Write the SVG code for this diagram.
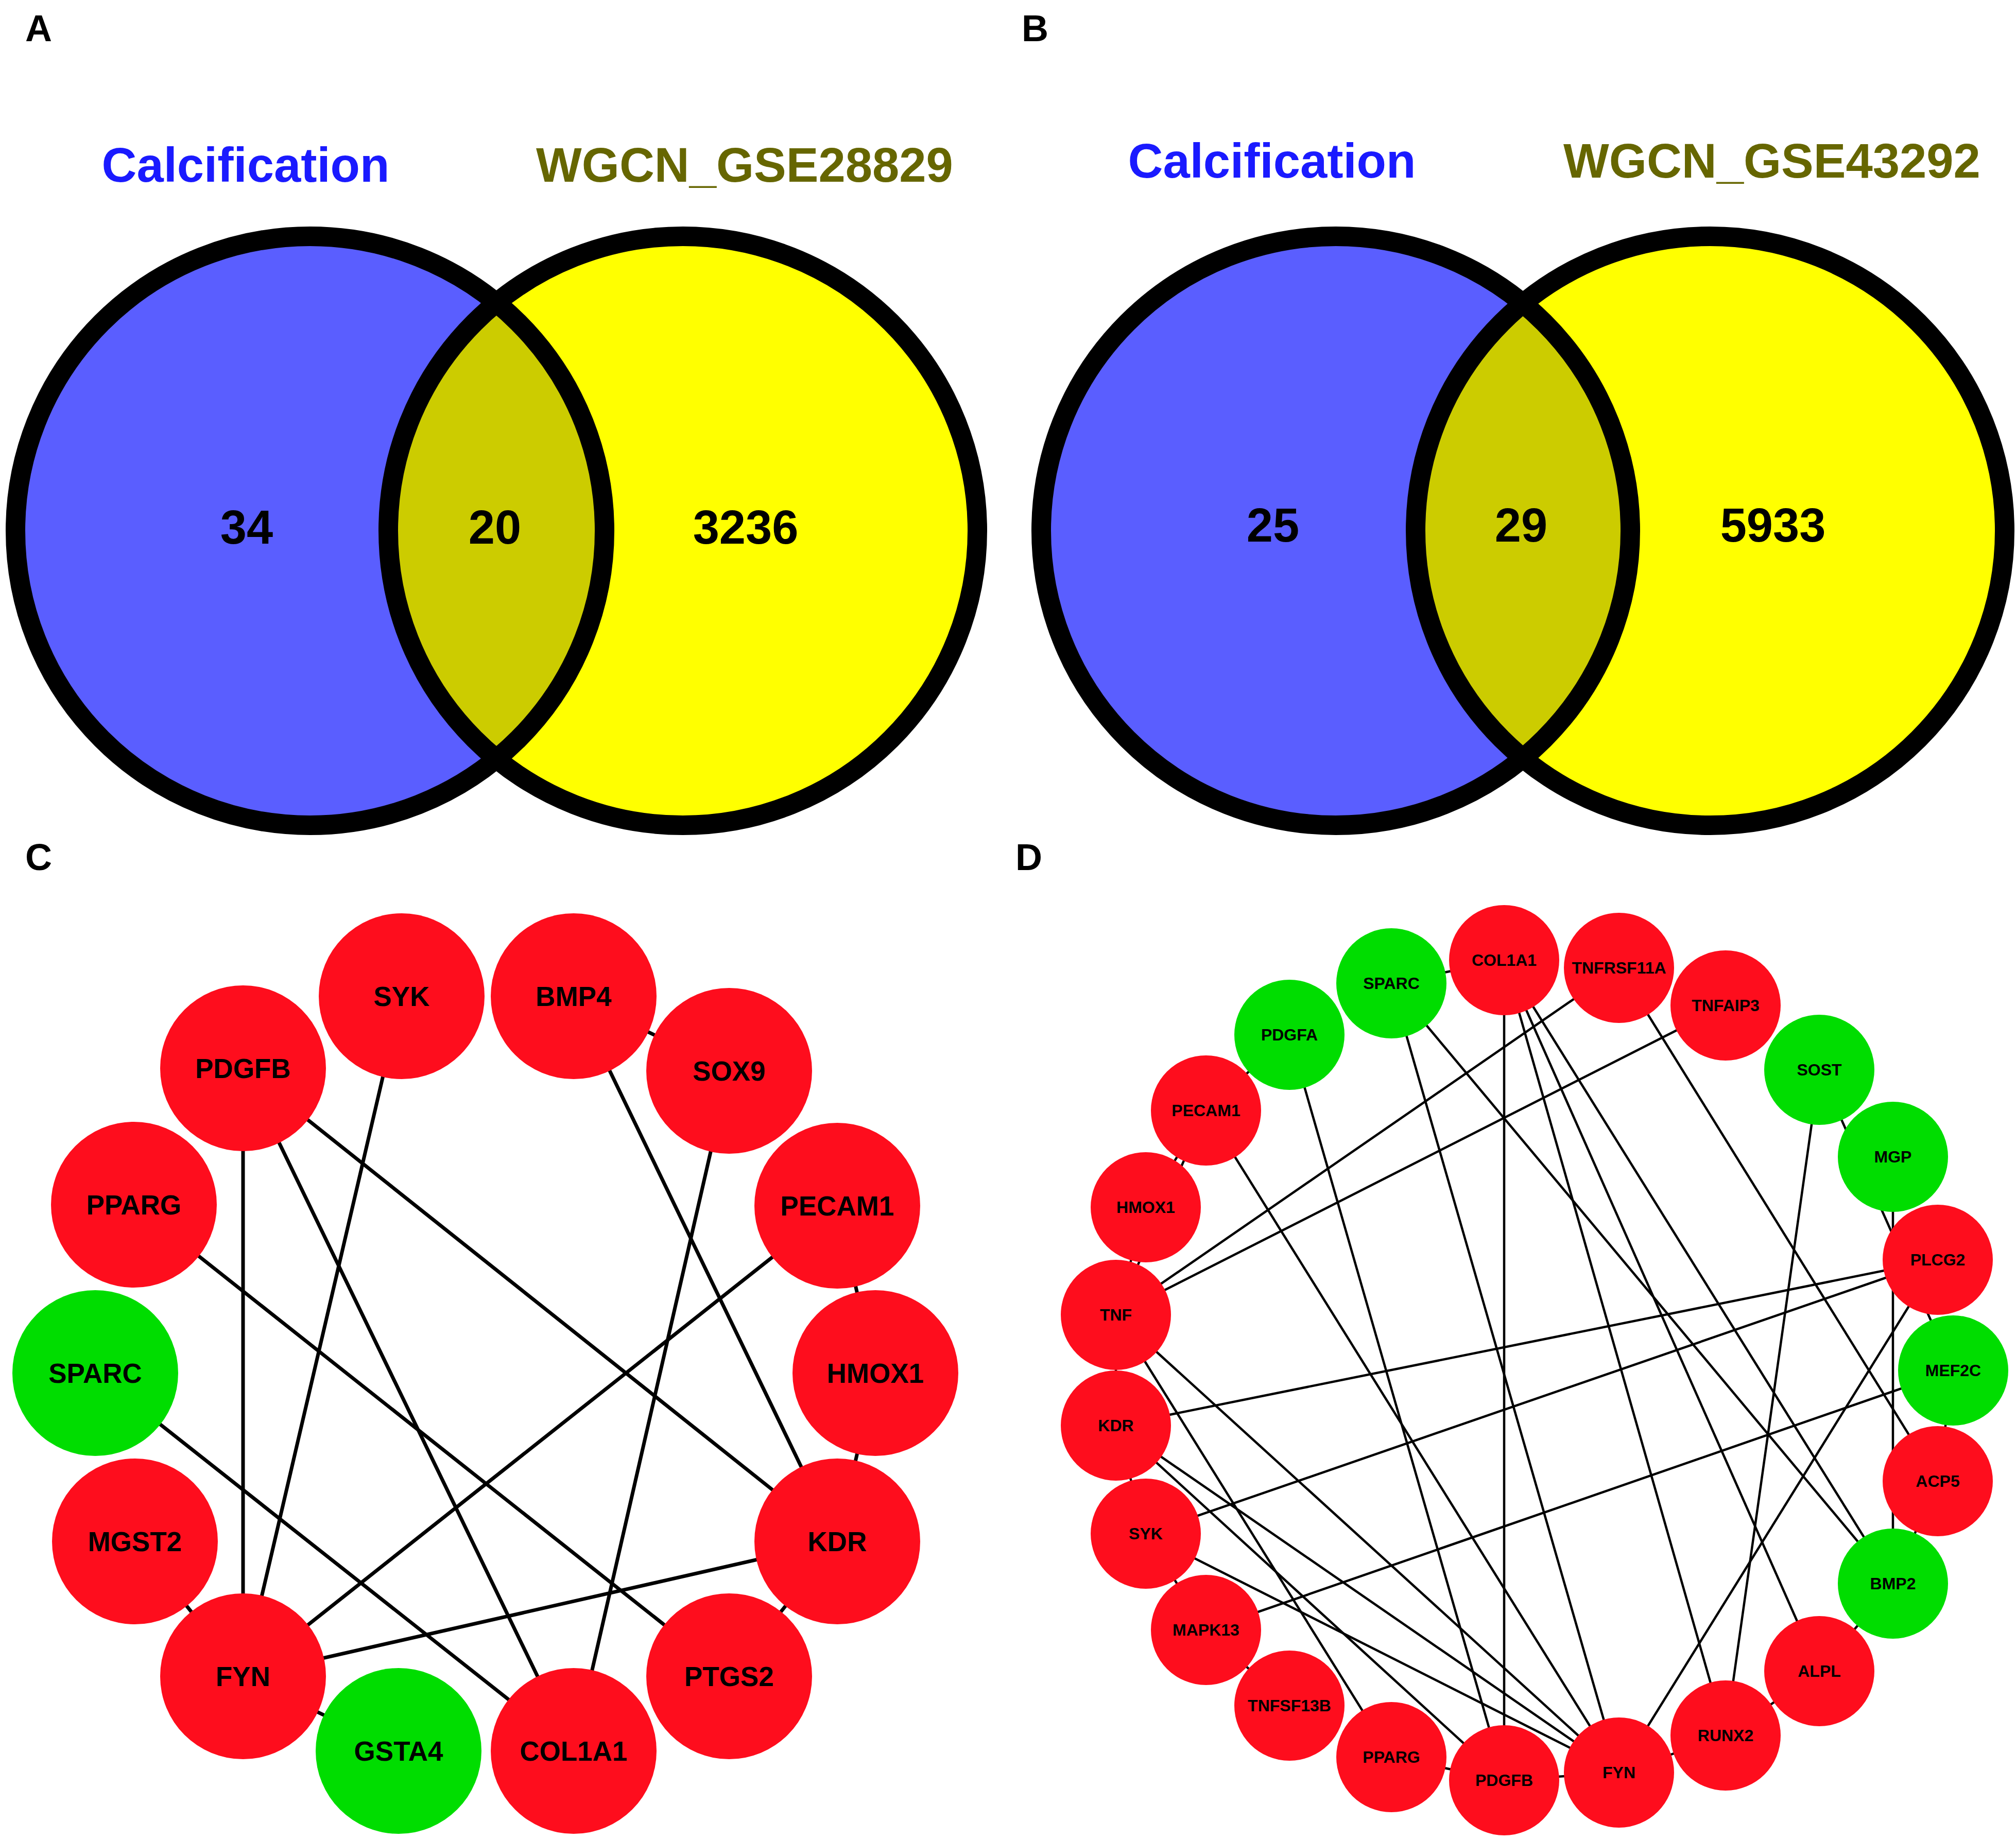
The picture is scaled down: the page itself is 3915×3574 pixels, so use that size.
<svg xmlns="http://www.w3.org/2000/svg" width="3915" height="3574" viewBox="0 0 3915 3574">
<style>
.lbl{font-family:"Liberation Sans",Arial,sans-serif;font-weight:bold;text-anchor:middle;dominant-baseline:central}
.ttl{font-size:94px}
.num{font-size:92px;fill:#000}
.pl{font-size:72px;fill:#000}
.c{font-size:53px;fill:#000}
.d{font-size:32px;fill:#000}
.r{fill:#fe0d1d}.g{fill:#00dd00}
.e line{stroke:#000;stroke-width:7}
.f line{stroke:#000;stroke-width:4.5}
.ring{fill:none;stroke:#000;stroke-width:38}
</style>
<defs>
<clipPath id="ca"><circle cx="602" cy="1031" r="572"/></clipPath>
<clipPath id="cb"><circle cx="2594" cy="1031" r="572"/></clipPath>
</defs>
<rect width="3915" height="3574" fill="#fff"/>
<text class="lbl pl" x="75" y="55">A</text>
<text class="lbl pl" x="2010" y="55">B</text>
<text class="lbl pl" x="75" y="1665">C</text>
<text class="lbl pl" x="1998" y="1665">D</text>
<g id="vennA">
<circle cx="602" cy="1031" r="572" fill="#5a5eff"/>
<circle cx="1326" cy="1031" r="572" fill="#ffff00"/>
<circle cx="1326" cy="1031" r="572" fill="#cccc00" clip-path="url(#ca)"/>
<circle class="ring" cx="602" cy="1031" r="572"/>
<circle class="ring" cx="1326" cy="1031" r="572"/>
<text class="lbl ttl" x="477" y="320" fill="#1a1aff">Calcification</text>
<text class="lbl ttl" x="1446" y="320" fill="#666600">WGCN_GSE28829</text>
<text class="lbl num" x="479" y="1024">34</text>
<text class="lbl num" x="961" y="1024">20</text>
<text class="lbl num" x="1448" y="1024">3236</text>
</g>
<g id="vennB">
<circle cx="2594" cy="1031" r="572" fill="#5a5eff"/>
<circle cx="3321" cy="1031" r="572" fill="#ffff00"/>
<circle cx="3321" cy="1031" r="572" fill="#cccc00" clip-path="url(#cb)"/>
<circle class="ring" cx="2594" cy="1031" r="572"/>
<circle class="ring" cx="3321" cy="1031" r="572"/>
<text class="lbl ttl" x="2470" y="312" fill="#1a1aff">Calcification</text>
<text class="lbl ttl" x="3441" y="312" fill="#666600">WGCN_GSE43292</text>
<text class="lbl num" x="2472" y="1020">25</text>
<text class="lbl num" x="2954" y="1020">29</text>
<text class="lbl num" x="3443" y="1020">5933</text>
</g>
<g id="edgesC" class="e">
<line x1="780" y1="1935" x2="472" y2="3256"/>
<line x1="1114" y1="1935" x2="1626" y2="2994"/>
<line x1="1114" y1="1935" x2="1416" y2="2080"/>
<line x1="472" y1="2075" x2="472" y2="3256"/>
<line x1="472" y1="2075" x2="1114" y2="3401"/>
<line x1="472" y1="2075" x2="1626" y2="2994"/>
<line x1="1416" y1="2080" x2="1114" y2="3401"/>
<line x1="260" y1="2340" x2="1416" y2="3256"/>
<line x1="1626" y1="2342" x2="472" y2="3256"/>
<line x1="1626" y1="2342" x2="1700" y2="2667"/>
<line x1="1700" y1="2667" x2="1626" y2="2994"/>
<line x1="185" y1="2667" x2="1114" y2="3401"/>
<line x1="1626" y1="2994" x2="472" y2="3256"/>
<line x1="1626" y1="2994" x2="1416" y2="3256"/>
<line x1="262" y1="2994" x2="472" y2="3256"/>
<line x1="472" y1="3256" x2="774" y2="3401"/>
</g>
<g id="nodesC">
<g id="c-syk"><circle class="r" cx="780" cy="1935" r="161"/><text class="lbl c" x="780" y="1935">SYK</text></g>
<g id="c-bmp4"><circle class="r" cx="1114" cy="1935" r="161"/><text class="lbl c" x="1114" y="1935">BMP4</text></g>
<g id="c-pdgfb"><circle class="r" cx="472" cy="2075" r="161"/><text class="lbl c" x="472" y="2075">PDGFB</text></g>
<g id="c-sox9"><circle class="r" cx="1416" cy="2080" r="161"/><text class="lbl c" x="1416" y="2080">SOX9</text></g>
<g id="c-pparg"><circle class="r" cx="260" cy="2340" r="161"/><text class="lbl c" x="260" y="2340">PPARG</text></g>
<g id="c-pecam1"><circle class="r" cx="1626" cy="2342" r="161"/><text class="lbl c" x="1626" y="2342">PECAM1</text></g>
<g id="c-sparc"><circle class="g" cx="185" cy="2667" r="161"/><text class="lbl c" x="185" y="2667">SPARC</text></g>
<g id="c-hmox1"><circle class="r" cx="1700" cy="2667" r="161"/><text class="lbl c" x="1700" y="2667">HMOX1</text></g>
<g id="c-mgst2"><circle class="r" cx="262" cy="2994" r="161"/><text class="lbl c" x="262" y="2994">MGST2</text></g>
<g id="c-kdr"><circle class="r" cx="1626" cy="2994" r="161"/><text class="lbl c" x="1626" y="2994">KDR</text></g>
<g id="c-fyn"><circle class="r" cx="472" cy="3256" r="161"/><text class="lbl c" x="472" y="3256">FYN</text></g>
<g id="c-ptgs2"><circle class="r" cx="1416" cy="3256" r="161"/><text class="lbl c" x="1416" y="3256">PTGS2</text></g>
<g id="c-gsta4"><circle class="g" cx="774" cy="3401" r="161"/><text class="lbl c" x="774" y="3401">GSTA4</text></g>
<g id="c-col1a1"><circle class="r" cx="1114" cy="3401" r="161"/><text class="lbl c" x="1114" y="3401">COL1A1</text></g>
</g>
<g id="edgesD" class="f">
<line x1="2702" y1="1910" x2="2921" y2="1865"/>
<line x1="2702" y1="1910" x2="3144" y2="3443"/>
<line x1="2702" y1="1910" x2="3676" y2="3076"/>
<line x1="2921" y1="1865" x2="2921" y2="3458"/>
<line x1="2921" y1="1865" x2="3351" y2="3371"/>
<line x1="2921" y1="1865" x2="3533" y2="3246"/>
<line x1="2921" y1="1865" x2="3676" y2="3076"/>
<line x1="3144" y1="1880" x2="2167" y2="2554"/>
<line x1="3351" y1="1953" x2="2167" y2="2554"/>
<line x1="3144" y1="1880" x2="3763" y2="2877"/>
<line x1="2504" y1="2010" x2="2342" y2="2157"/>
<line x1="2504" y1="2010" x2="2921" y2="3458"/>
<line x1="3533" y1="2078" x2="3351" y2="3371"/>
<line x1="3533" y1="2078" x2="3793" y2="2662"/>
<line x1="3676" y1="2247" x2="3676" y2="3076"/>
<line x1="3763" y1="2447" x2="2167" y2="2769"/>
<line x1="3763" y1="2447" x2="2225" y2="2979"/>
<line x1="3763" y1="2447" x2="3144" y2="3443"/>
<line x1="3793" y1="2662" x2="2342" y2="3166"/>
<line x1="3793" y1="2662" x2="3763" y2="2877"/>
<line x1="3763" y1="2877" x2="3676" y2="3076"/>
<line x1="3676" y1="3076" x2="3533" y2="3246"/>
<line x1="3533" y1="3246" x2="3351" y2="3371"/>
<line x1="3351" y1="3371" x2="3144" y2="3443"/>
<line x1="3144" y1="3443" x2="2921" y2="3458"/>
<line x1="2921" y1="3458" x2="2702" y2="3413"/>
<line x1="2342" y1="2157" x2="2225" y2="2345"/>
<line x1="2225" y1="2345" x2="2167" y2="2554"/>
<line x1="2167" y1="2554" x2="2167" y2="2769"/>
<line x1="2167" y1="2769" x2="2225" y2="2979"/>
<line x1="2225" y1="2979" x2="2342" y2="3166"/>
<line x1="2342" y1="3166" x2="2504" y2="3313"/>
<line x1="2342" y1="2157" x2="2167" y2="2554"/>
<line x1="2342" y1="2157" x2="3144" y2="3443"/>
<line x1="2167" y1="2554" x2="2702" y2="3413"/>
<line x1="2167" y1="2554" x2="3144" y2="3443"/>
<line x1="2167" y1="2769" x2="3144" y2="3443"/>
<line x1="2167" y1="2769" x2="2921" y2="3458"/>
<line x1="2225" y1="2979" x2="3144" y2="3443"/>
</g>
<g id="nodesD">
<g id="d-sparc"><circle class="g" cx="2702" cy="1910" r="107"/><text class="lbl d" x="2702" y="1910">SPARC</text></g>
<g id="d-col1a1"><circle class="r" cx="2921" cy="1865" r="107"/><text class="lbl d" x="2921" y="1865">COL1A1</text></g>
<g id="d-tnfrsf11a"><circle class="r" cx="3144" cy="1880" r="107"/><text class="lbl d" x="3144" y="1880">TNFRSF11A</text></g>
<g id="d-tnfaip3"><circle class="r" cx="3351" cy="1953" r="107"/><text class="lbl d" x="3351" y="1953">TNFAIP3</text></g>
<g id="d-pdgfa"><circle class="g" cx="2504" cy="2010" r="107"/><text class="lbl d" x="2504" y="2010">PDGFA</text></g>
<g id="d-sost"><circle class="g" cx="3533" cy="2078" r="107"/><text class="lbl d" x="3533" y="2078">SOST</text></g>
<g id="d-pecam1"><circle class="r" cx="2342" cy="2157" r="107"/><text class="lbl d" x="2342" y="2157">PECAM1</text></g>
<g id="d-mgp"><circle class="g" cx="3676" cy="2247" r="107"/><text class="lbl d" x="3676" y="2247">MGP</text></g>
<g id="d-hmox1"><circle class="r" cx="2225" cy="2345" r="107"/><text class="lbl d" x="2225" y="2345">HMOX1</text></g>
<g id="d-plcg2"><circle class="r" cx="3763" cy="2447" r="107"/><text class="lbl d" x="3763" y="2447">PLCG2</text></g>
<g id="d-tnf"><circle class="r" cx="2167" cy="2554" r="107"/><text class="lbl d" x="2167" y="2554">TNF</text></g>
<g id="d-mef2c"><circle class="g" cx="3793" cy="2662" r="107"/><text class="lbl d" x="3793" y="2662">MEF2C</text></g>
<g id="d-kdr"><circle class="r" cx="2167" cy="2769" r="107"/><text class="lbl d" x="2167" y="2769">KDR</text></g>
<g id="d-acp5"><circle class="r" cx="3763" cy="2877" r="107"/><text class="lbl d" x="3763" y="2877">ACP5</text></g>
<g id="d-syk"><circle class="r" cx="2225" cy="2979" r="107"/><text class="lbl d" x="2225" y="2979">SYK</text></g>
<g id="d-bmp2"><circle class="g" cx="3676" cy="3076" r="107"/><text class="lbl d" x="3676" y="3076">BMP2</text></g>
<g id="d-mapk13"><circle class="r" cx="2342" cy="3166" r="107"/><text class="lbl d" x="2342" y="3166">MAPK13</text></g>
<g id="d-alpl"><circle class="r" cx="3533" cy="3246" r="107"/><text class="lbl d" x="3533" y="3246">ALPL</text></g>
<g id="d-tnfsf13b"><circle class="r" cx="2504" cy="3313" r="107"/><text class="lbl d" x="2504" y="3313">TNFSF13B</text></g>
<g id="d-runx2"><circle class="r" cx="3351" cy="3371" r="107"/><text class="lbl d" x="3351" y="3371">RUNX2</text></g>
<g id="d-pparg"><circle class="r" cx="2702" cy="3413" r="107"/><text class="lbl d" x="2702" y="3413">PPARG</text></g>
<g id="d-fyn"><circle class="r" cx="3144" cy="3443" r="107"/><text class="lbl d" x="3144" y="3443">FYN</text></g>
<g id="d-pdgfb"><circle class="r" cx="2921" cy="3458" r="107"/><text class="lbl d" x="2921" y="3458">PDGFB</text></g>
</g>
</svg>
